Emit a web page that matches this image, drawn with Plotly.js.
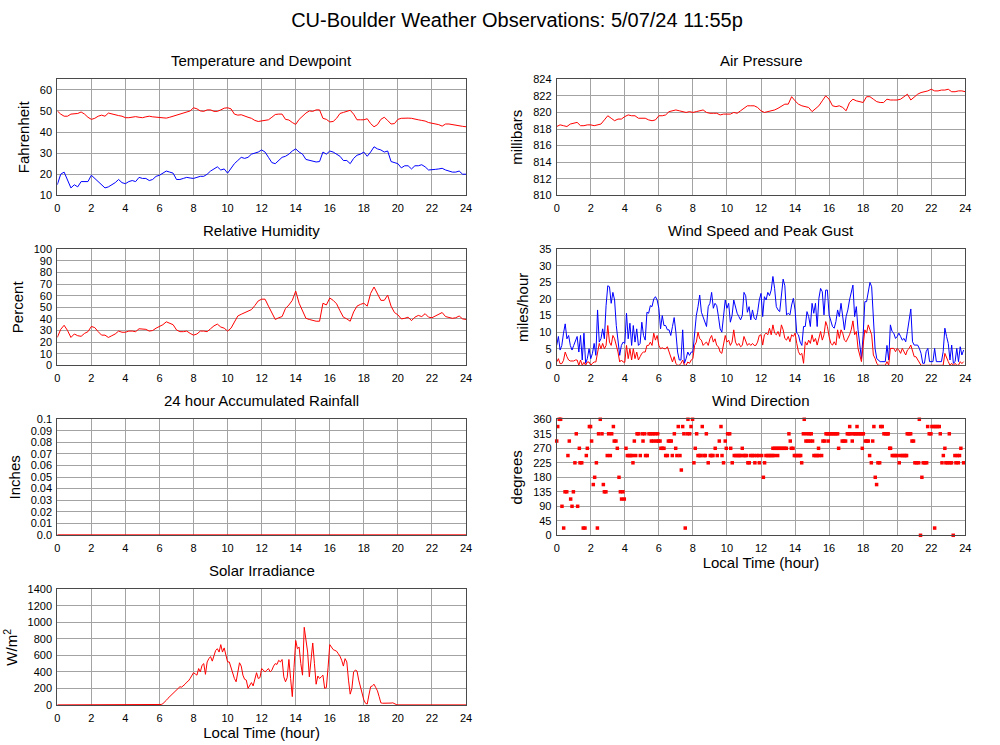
<!DOCTYPE html>
<html>
<head>
<meta charset="utf-8">
<script src="https://cdn.plot.ly/plotly-3.0.1.min.js"></script>
<style>
html,body{margin:0;padding:0;background:#fff;}
#chart{width:1000px;height:745px;}
</style>
</head>
<body>
<div id="chart"></div>
<script>
// ---------------- DATA ----------------
const chartTitle = 'CU-Boulder Weather Observations: 5/07/24 11:55p';
const panelTitles = ['Temperature and Dewpoint','Air Pressure','Relative Humidity','Wind Speed and Peak Gust',
  '24 hour Accumulated Rainfall','Wind Direction','Solar Irradiance'];
const hourTicks = [0,2,4,6,8,10,12,14,16,18,20,22,24];

// 12-minute samples, 0..24 h
const temperatureF = [
50,48.5,47.5,47.5,48.5,48.5,48.8,49.5,48.5,47,
46,46.5,47.5,48,47.5,49,48.5,48,47.8,47.5,
46.8,46.8,47,47.3,47,46.8,47.2,47.5,47.2,47,
46.8,46.5,46.6,47,47.5,48.2,48.7,49.3,49.5,50,
51.5,51,50,49.8,50.5,50.5,49.8,49.8,50.5,51.3,
51.5,51,48.5,48,48.2,47.5,47,46.5,45.5,45,
45.2,45.5,45.8,47,48.3,48.5,48.5,46,45.7,44.5,
43.6,46,47.5,49,50,49.8,50.5,50.5,46.5,46,
44.8,45,46.5,48.8,49.3,49.8,50.3,48.5,45.8,45.8,
45.8,46.3,44,42.5,43.5,46,47,45.5,43.8,44,
46,46.5,46.7,46.6,46.5,46.3,45.8,45.5,45.2,44.5,
44.2,44,43.5,42.8,43.8,43.8,43.5,43,42.8,42.7,
42.5];
const dewpointF = [
15,20,21,17.5,13.5,15,14,16.5,16.5,16.5,
19.5,18,16.5,15,13.5,14,15,16,17.5,16,
15.5,16.5,17,16.5,18.5,18,18,17,17.5,19,
19.5,20.5,21.5,21,20.5,17.5,17.5,18,18.5,18.2,
18,18.5,19,19,20,21.5,22.5,23.5,22,22.5,
20.5,23,25,26.5,28,27.5,28,29.5,30,30.5,
31.5,30.5,28,25.5,25,26.5,28,28.5,29.5,31,
32,30.5,29.5,27,26.5,26,25.8,26,30.5,29.5,
31,30.5,29.5,28.5,26.5,26.5,25,27.5,29,29.5,
30.5,28.5,30.5,33,32,31.5,30.5,31,26,25.5,
25,23,24,24,22.5,24,24,24.5,23.5,22,
22,22.3,22.5,22.8,22,21.5,21,21,21.5,20,
20];
const pressureMb = [
818.3,818.5,818.4,818.3,818.6,818.7,818.8,818.4,818.4,818.5,
818.5,818.4,818.5,818.6,819.1,819.6,819.3,819.0,819.2,819.2,
819.5,819.7,819.6,819.6,819.3,819.3,819.3,819.1,819.0,819.1,
819.6,819.6,819.7,820.1,820.2,820.3,820.2,820.1,820.0,820.1,
820.0,820.1,820.2,820.3,820.0,819.9,819.9,819.9,819.7,819.8,
819.8,819.8,820.0,819.9,820.2,820.5,820.8,820.8,820.8,820.6,
820.2,820.0,820.1,820.2,820.3,820.5,820.7,821.0,821.0,821.9,
821.4,821.0,820.8,820.7,820.6,820.1,820.5,820.8,821.4,822.0,
821.6,820.8,820.7,820.8,820.6,820.2,821.2,821.6,821.4,821.3,
821.2,821.9,821.9,821.6,821.3,821.2,821.2,821.6,821.5,821.5,
821.5,821.6,821.9,822.2,821.5,821.9,822.2,822.4,822.5,822.6,
822.8,822.6,822.6,822.7,822.7,822.8,822.5,822.5,822.6,822.6,
822.5];
const humidityPct = [
24,31,34.5,30,24,27,25.5,25,27.5,29,
33.5,32.5,29,26,26,24,25.5,27,29.5,28.5,
28.5,29.5,29.5,29,31.5,31.5,31,29.5,30,32,
33.5,35,37.5,36.5,35,30.5,29,29,29.5,27.5,
26,27,29.5,29.5,29,31.5,34,35.5,33,32,
29.5,32,37,42.5,44,45.5,46.5,48,51.5,55.5,
57,57,51,45,39.5,41,42,49,52,56,
64,53.5,47,40.5,39.5,38.5,38,38,53.5,52,
58,56,53,47,41.5,40,38,46,51,52.5,
53.5,51,62,67.5,61,56,56,60.5,51,45.5,
43.5,40,40.5,41.5,38.5,41.5,43,42,44.5,41.5,
41,42.5,44,45.5,42,41,40.5,41,42.5,40,
39.5];

// 6-minute samples, 0..23.9 h
const peakGustMph = [
6,8.7,4.6,6,9.7,12.5,8,9,6,4.6,
6,7.6,8.7,4,9,1.6,9.7,0.6,2,5,
2,3.6,6.6,3,16.7,7,8,11,8,
18,24,23.7,18.7,22,19.7,12,7,3,6,
7,6.6,15.7,8,12.7,6,12,7,11,6,
6.6,13,9,7.6,16,15.7,18,17.7,20,20.7,
19.7,17.2,11,15,12,12,
10.7,10.7,9,
11.7,14.4,10,4,1.6,1.6,10.7,0.6,2,4,
3,4,4,9,15,17.7,21.2,16,14.7,13,
11.7,17.7,18.7,22,17.2,18.7,18,14.7,11,10,
14,19.7,17.2,18.7,
13,15,19.7,17.7,15.7,
14.7,13.7,15,22,21,16,17.7,13.7,16.7,14.2,
13.7,16,19.7,
21.7,14.7,20.7,19.7,22,21,22.7,26.8,23.2,17.7,
16.7,16.2,21.2,26,
24,15.2,15.7,15.2,18.2,
20.2,16.7,9.7,9.2,7,6,11.7,11.7,16.2,14.7,
11.7,18.7,15.7,18.7,11.7,20.2,23.2,22.2,15.2,22.7,
22.7,15.2,13.7,11.7,11.2,13.2,16.7,14.7,18.7,15.2,
10.7,14.7,16.7,19.7,22.2,24.2,14.7,17.7,10.7,6,
2,9.2,19.2,19.2,22.2,25,23.7,13.2,5.1,2,
1.6,1.1,
1.1,1.1,1.1,6,1.6,12.2,10.2,
9.7,8.1,8.7,9.7,8.7,7.6,8.1,7.1,10.2,13.2,
17,7.1,6.1,6.1,6.1,5.1,3.6,0.6,0.6,4.1,
5.1,1.1,1.1,
1.1,5.1,1.1,1.1,1.1,1.1,
4.1,11.2,8.7,6.6,1.6,6.1,0.6,1.1,5.1,1.1,
5.6,3.1,4.6];
const windSpeedMph = [
1,2,0.5,0.5,1.5,4,2.6,1.6,1.3,1.3,
1.3,1.6,1.6,0,1.6,0,0.9,0,1,1,
0,0.6,1,1,4.6,6.6,5,6.6,5,
6,12,7,6,9,8,6,4,1,1.6,
1,0.9,6,2,5,1.6,5,2,4,1.6,
2.6,3.6,4,4,6,6,7,6,9.7,7.6,
9,6,5,5.3,5,5,
5.6,4,2,
1,2.6,0.6,0,0,0.6,1.6,0,0,1,
0.6,1.6,2,6,7,10,8,7.6,6,6.6,
7,6,8,9,7,8,6,5.6,4,3.6,
7,9,7,7.6,
6,7,10.7,7,6,
6.6,5.6,6,8.7,7,6,6.6,6,6.6,6,
6,7,9,
9.2,6.1,9.2,9.7,9.2,11.2,9.2,12.2,9.7,9.2,
10.2,8.7,12.2,10.7,8.1,7.6,8.7,7.1,9.2,8.7,
9.7,6.6,4.1,3.1,3.6,0.6,7.1,6.1,7.6,6.6,
9.2,7.1,8.1,6.1,8.7,10.2,7.6,9.2,13.2,11.7,
8.7,6.6,6.1,7.1,6.1,10.7,8.1,10.7,9.7,7.6,
7.1,8.1,9.2,10.7,13.4,9.2,10.2,5.1,3.1,1.1,
6.1,10.7,9.7,12.2,10.7,9.2,3.1,2.1,0.6,0,
0,0,
0,0,1.1,0,5.1,5.1,5.1,
4.1,5.1,4.6,3.6,5.1,4.1,3.1,4.6,5.1,6.1,
4.1,2.6,2.6,1.6,0.6,0,0,0,0,0,
0,0,0,0,0,
0,0,0,0,
3.6,2.1,1.1,0,0.6,0,0.6,0,0,1.1,
0.5,1.1];

// 6-minute samples, 0..24 h
const solarWm2 = [
0,0,0,0,0,0,0,0,0,0, 0,0,0,0,0,0,0,0,0,0, 0,0,0,0,0,0,0,0,0,0,
0,0,0,0,0,0,0,0,0,0, 0,0,0,0,0,0,0,0,0,0, 0,0,0,0,0,0,0,0,0,0,
0,5,15,30,55,80,100,120,140,165,
190,210,220,215,230,250,275,290,320,350,
390,375,360,440,400,480,500,370,520,560,
585,530,600,660,680,640,730,640,690,600,
520,520,450,360,320,280,400,510,470,360,
310,300,200,240,270,230,330,390,320,330,
440,420,400,420,440,400,420,470,500,490,
540,520,550,340,280,330,550,320,100,450,
780,680,700,500,360,940,780,640,340,540,
750,500,250,350,320,340,360,200,210,450,
730,700,670,660,650,620,590,540,470,560,
520,300,130,200,400,420,410,300,210,120,
60,20,10,120,220,230,250,210,170,100,
25,20,20,15,18,20,22,25,12,5,
0,0,0,0,0,0,0,0,0,0, 0,0,0,0,0,0,0,0,0,0,
0,0,0,0,0,0,0,0,0,0, 0,0,0,0,0,0,0,0,0,0, 0];

// hourly, 0..24 h
const rainfallIn = [0,0,0,0,0,0,0,0,0,0,0,0,0,0,0,0,0,0,0,0,0,0,0,0,0];

// wind direction observations: compass direction (degrees) and the hours at which it was observed
const compassDegrees = [360,337.5,315,292.5,270,247.5,225,202.5,180,157.5,135,112.5,90,22.5,0];
const directionHours = [
 [0.15,0.23,2.56,7.71,7.98,14.54,21.30],
 [0.06,1.92,1.99,3.33,7.14,7.40,7.89,8.55,9.65,17.21,17.64,18.63,19.03,19.12,21.79,22.04,22.16,22.26,22.37,22.47],
 [1.15,2.46,2.66,3.05,3.23,4.72,4.81,5.03,5.17,5.42,5.52,5.65,5.77,5.93,6.91,7.47,7.67,7.81,8.22,8.79,10.04,10.16,
  13.64,14.49,14.68,14.84,14.95,15.82,15.91,16.01,16.11,16.21,16.30,16.40,16.50,17.07,17.17,17.26,17.42,17.52,17.60,
  17.71,17.81,17.91,18.01,19.22,19.32,19.42,19.47,20.59,20.69,20.79,21.88,21.98,22.53,23.06],
 [0.0,0.74,2.05,3.38,3.48,4.56,5.07,5.56,5.69,5.85,5.97,6.07,6.56,6.65,6.73,9.55,9.90,13.72,14.64,14.76,14.89,15.03,
  15.64,15.74,15.95,16.77,16.87,16.97,17.36,18.13,18.22,18.30,18.56,20.87,20.96],
 [1.33,1.80,3.56,4.07,6.12,6.20,6.30,6.99,8.14,9.31,9.96,10.22,10.90,12.70,12.80,12.90,13.00,13.09,13.19,13.29,13.39,
  13.49,13.78,13.88,15.38,16.56,17.95,19.56,19.61,22.80,23.74],
 [0.66,1.74,2.97,3.15,4.15,4.25,4.34,4.44,4.64,4.91,5.22,5.32,6.40,6.50,6.79,7.06,7.24,8.30,8.40,8.47,8.65,8.73,9.02,
  9.10,9.18,9.43,9.71,10.43,10.53,10.63,10.72,10.80,10.96,11.06,11.15,11.39,11.49,11.60,11.76,11.86,12.04,12.29,12.39,
  12.49,12.58,12.68,12.78,12.98,13.96,14.05,14.15,14.25,14.33,15.11,15.21,15.31,15.40,15.56,18.38,19.71,19.81,19.91,
  20.00,20.20,20.30,20.40,20.49,20.55,22.71,23.39,23.53,23.66],
 [1.07,1.37,1.47,2.33,4.48,8.06,8.90,9.80,10.31,11.23,11.31,11.64,11.90,12.21,14.39,18.48,18.87,18.97,20.12,21.04,21.14,
  21.26,21.53,21.63,21.73,22.63,22.86,22.96,23.10,23.19,23.45,23.59,23.90],
 [7.32],
 [2.23,3.66,12.14,18.71,21.45],
 [2.15,2.74,18.79],
 [0.49,0.59,0.98,2.80,2.89,3.74,3.89],
 [0.82,3.81,3.97],
 [0.31,0.90,1.23],
 [0.41,1.56,1.66,2.39,7.55,22.20],
 [21.37,23.29]
];

// ---------------- BUILD ----------------
const hours12min = temperatureF.map((_, i) => Math.round(i * 2) / 10);
const hours6min = peakGustMph.map((_, i) => i / 10);
const hoursSolar = solarWm2.map((_, i) => i / 10);
const hoursRain = rainfallIn.map((_, i) => i);
const dirX = [], dirY = [];
compassDegrees.forEach((d, k) => directionHours[k].forEach(h => { dirX.push(h); dirY.push(d); }));

const RED = '#ff0000', BLUE = '#0000ff';
const FONT = 'Liberation Sans, Arial, Helvetica, sans-serif';

function line(x, y, color, xa, ya) {
  return {type:'scatter', mode:'lines', x, y, xaxis:xa, yaxis:ya, line:{color, width:1}, hoverinfo:'skip', showlegend:false};
}

const traces = [
  line(hours12min, temperatureF, RED, 'x', 'y'),
  line(hours12min, dewpointF, BLUE, 'x', 'y'),
  line(hours12min, pressureMb, RED, 'x2', 'y2'),
  line(hours12min, humidityPct, RED, 'x3', 'y3'),
  line(hours6min, peakGustMph, BLUE, 'x4', 'y4'),
  line(hours6min, windSpeedMph, RED, 'x4', 'y4'),
  line(hoursRain, rainfallIn, RED, 'x5', 'y5'),
  {type:'scatter', mode:'markers', x:dirX, y:dirY, xaxis:'x6', yaxis:'y6',
   marker:{color:RED, size:3.5, symbol:'square', line:{width:0}}, hoverinfo:'skip', showlegend:false, cliponaxis:false},
  line(hoursSolar, solarWm2, RED, 'x7', 'y7')
];

const W = 1000, H = 745;
const colX = [[57.3, 466.0], [556.7, 965.3]];
const rowTop = [79.3, 249.3, 419.3, 589.3];
const plotH = 116;
const GRID = '#a3a3a3', FRAME = '#4a4a4a';

function xdom(c) { return [colX[c][0] / W, colX[c][1] / W]; }
function ydom(r) { return [1 - (rowTop[r] + plotH) / H, 1 - rowTop[r] / H]; }

function xAxis(c, r, anchor, withTitle) {
  const a = {domain:xdom(c), anchor, range:[0,24], tickmode:'array', tickvals:hourTicks,
    ticktext:hourTicks.map(String), showgrid:true, gridcolor:GRID, gridwidth:1, zeroline:false,
    showline:true, linecolor:FRAME, linewidth:1, mirror:true, ticks:'', ticklabelstandoff:2,
    tickfont:{family:FONT, size:11, color:'#000'}, fixedrange:true, automargin:false};
  if (withTitle) a.title = {text:'Local Time (hour)', font:{family:FONT, size:15, color:'#000'}, standoff:4};
  return a;
}
function yAxis(c, r, anchor, range, tickvals, ticktext, title) {
  return {domain:ydom(r), anchor, range, tickmode:'array', tickvals, ticktext:ticktext || tickvals.map(String),
    showgrid:true, gridcolor:GRID, gridwidth:1, zeroline:false, showline:true, linecolor:FRAME, linewidth:1,
    mirror:true, ticks:'', ticklabelstandoff:2, tickfont:{family:FONT, size:11, color:'#000'}, fixedrange:true, automargin:false,
    title:{text:title, font:{family:FONT, size:15, color:'#000'}, standoff:6}};
}
function seq(a, b, s) { const o = []; for (let v = a; v <= b + 1e-9; v += s) o.push(+v.toFixed(4)); return o; }

const rainTicks = seq(0, 0.1, 0.01);
const rainText = rainTicks.map(v => v === 0 ? '0.0' : String(v));

const layout = {
  width:W, height:H, margin:{l:0, r:0, t:0, b:0}, paper_bgcolor:'#fff', plot_bgcolor:'#fff',
  showlegend:false, font:{family:FONT, color:'#000'},
  title:{text:chartTitle, x:517/W, y:1 - 20/H, xanchor:'center', yanchor:'middle', xref:'paper', yref:'paper',
    font:{family:FONT, size:20, color:'#000'}},
  xaxis: xAxis(0, 0, 'y', false),
  yaxis: yAxis(0, 0, 'x', [10, 65], seq(10, 60, 10), null, 'Fahrenheit'),
  xaxis2: xAxis(1, 0, 'y2', false),
  yaxis2: yAxis(1, 0, 'x2', [810, 824], seq(810, 824, 2), null, 'millibars'),
  xaxis3: xAxis(0, 1, 'y3', false),
  yaxis3: yAxis(0, 1, 'x3', [0, 100], seq(0, 100, 10), null, 'Percent'),
  xaxis4: xAxis(1, 1, 'y4', false),
  yaxis4: yAxis(1, 1, 'x4', [0, 35], seq(0, 35, 5), null, 'miles/hour'),
  xaxis5: xAxis(0, 2, 'y5', false),
  yaxis5: yAxis(0, 2, 'x5', [-0.0004, 0.1], rainTicks, rainText, 'Inches'),
  xaxis6: xAxis(1, 2, 'y6', true),
  yaxis6: yAxis(1, 2, 'x6', [0, 360], seq(0, 360, 45), null, 'degrees'),
  xaxis7: xAxis(0, 3, 'y7', true),
  yaxis7: yAxis(0, 3, 'x7', [-5, 1400], seq(0, 1400, 200), null, 'W/m<sup>2</sup>'),
  annotations: panelTitles.map((t, i) => {
    const c = i % 2, r = Math.floor(i / 2);
    return {text:t, xref:'paper', yref:'paper', x:(colX[c][0] + colX[c][1]) / 2 / W, y:1 - (rowTop[r] - 18.5) / H,
      xanchor:'center', yanchor:'middle', showarrow:false, font:{family:FONT, size:15, color:'#000'}};
  })
};

Plotly.newPlot('chart', traces, layout, {staticPlot:true, displayModeBar:false});
</script>
</body>
</html>
